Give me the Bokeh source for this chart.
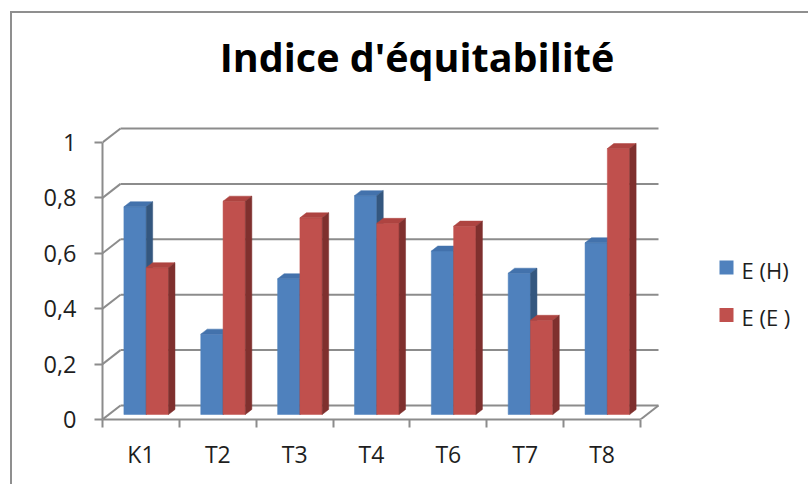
from bokeh.plotting import figure
from bokeh.models import Range1d, FixedTicker, LinearAxis
from bokeh.core.properties import value
from bokeh.embed import file_html
from bokeh.resources import INLINE

# ---------------- data ----------------
categories = ["K1", "T2", "T3", "T4", "T6", "T7", "T8"]
series_names = ["E (H)", "E (E )"]
e_h = [0.75, 0.29, 0.49, 0.79, 0.59, 0.51, 0.62]
e_e = [0.53, 0.77, 0.71, 0.69, 0.68, 0.34, 0.96]
y_ticks = [0, 0.2, 0.4, 0.6, 0.8, 1.0]
y_tick_labels = ["0", "0,2", "0,4", "0,6", "0,8", "1"]
title_text = "Indice d'équitabilité"

# ---------------- styling / geometry ----------------
ORGX, ORGY = 12, 13          # canvas origin on page (after border)
FL, FBOT = 102, 419          # frame left / bottom on page
PX = 538 / 7.0               # px per category
PY = 277.0                   # px per unit value
DX = 18 / PX                 # wall depth in x units
DY = 14 / PY                 # wall depth in y units
W = 22.3 / PX                # bar width
C = 0.5 - 0.015              # pair centre inside category
FB = 0.357                   # depth of bar front face
BD = 0.36                    # bar depth fraction
OX, OY = FB * DX, FB * DY
BX, BY = BD * DX, BD * DY

GRID = "#8c8c8c"
BORDER = "#8f8f8f"
FONT = "Open Sans"
TXT = "#1e1e1e"
front = ["#4F81BD", "#C0504D"]
topc = ["#4372AC", "#AE4441"]
side = ["#34577F", "#7F302E"]


def dx(px):
    return (px - FL) / PX


def dy(py):
    return (FBOT - py) / PY


n = len(categories)
W_FIG = 810 - ORGX
H_FIG = 486 - ORGY
p = figure(width=W_FIG, height=H_FIG, output_backend="svg", toolbar_location=None,
           x_range=Range1d(0, dx(810)), y_range=Range1d(0, dy(ORGY)),
           min_border_left=FL - ORGX, min_border_right=0, min_border_top=0,
           min_border_bottom=486 - FBOT, x_axis_type=None, y_axis_type=None)
p.background_fill_color = "white"
p.border_fill_color = "white"
p.outline_line_color = None
p.xgrid.visible = False
p.ygrid.visible = False
p.styles = {"margin-left": "10px", "margin-top": "11px",
            "border-left": "2px solid " + BORDER, "border-top": "2px solid " + BORDER}

# left axis
yax = LinearAxis(ticker=FixedTicker(ticks=y_ticks), bounds=(0, 1))
yax.major_label_overrides = {t: l for t, l in zip(y_ticks, y_tick_labels)}
yax.axis_line_color = GRID
yax.axis_line_width = 2
yax.major_tick_line_color = GRID
yax.major_tick_line_width = 2
yax.major_tick_out = 8
yax.major_tick_in = 0
yax.minor_tick_line_color = None
yax.major_label_standoff = 18
yax.major_label_text_font = FONT
yax.major_label_text_font_size = "23.5px"
yax.major_label_text_color = TXT
p.add_layout(yax, "left")

# bottom axis
cat_ticks = [i + 0.5 for i in range(n)]
xax = LinearAxis(ticker=FixedTicker(ticks=cat_ticks, minor_ticks=list(range(n + 1))),
                 bounds=(0, n))
xax.major_label_overrides = {t: c for t, c in zip(cat_ticks, categories)}
xax.axis_line_color = GRID
xax.axis_line_width = 2
xax.major_tick_line_color = None
xax.major_tick_out = 0
xax.major_tick_in = 0
xax.minor_tick_line_color = GRID
xax.minor_tick_line_width = 2
xax.minor_tick_out = 8
xax.minor_tick_in = 0
xax.major_label_standoff = 10
xax.major_label_text_font = FONT
xax.major_label_text_font_size = "23px"
xax.major_label_text_color = TXT
p.add_layout(xax, "below")

# walls / gridlines
p.segment(x0=[DX] * len(y_ticks), y0=[t + DY for t in y_ticks],
          x1=[n + DX] * len(y_ticks), y1=[t + DY for t in y_ticks],
          line_color=GRID, line_width=2)
p.segment(x0=[0] * len(y_ticks), y0=y_ticks,
          x1=[DX] * len(y_ticks), y1=[t + DY for t in y_ticks],
          line_color=GRID, line_width=2)
p.segment(x0=[n], y0=[0], x1=[n + DX], y1=[DY], line_color=GRID, line_width=2)

# bars
for s, vals in enumerate([e_h, e_e]):
    lefts = [i + C - W + s * W + OX for i in range(n)]
    rights = [l + W for l in lefts]
    tops = [OY + v for v in vals]
    bots = [OY] * n
    p.quad(left=lefts, right=rights, top=tops, bottom=bots,
           fill_color=front[s], line_color=front[s], line_width=0.5)
    txs = [[l, r, r + BX, l + BX] for l, r in zip(lefts, rights)]
    tys = [[t, t, t + BY, t + BY] for t in tops]
    p.patches(xs=txs, ys=tys, fill_color=topc[s], line_color=topc[s], line_width=0.5)
    sxs = [[r, r + BX, r + BX, r] for r in rights]
    sys_ = [[b, b + BY, t + BY, t] for b, t in zip(bots, tops)]
    p.patches(xs=sxs, ys=sys_, fill_color=side[s], line_color=side[s], line_width=0.5)

# title
p.text(x=[dx(416.5)], y=[dy(56)], text=[title_text],
       text_font=value(FONT), text_font_style="bold", text_font_size="39.5px",
       text_color="black", text_align="center", text_baseline="middle")

# legend
lx = dx(726)
p.scatter(x=[lx, lx], y=[dy(267), dy(314.5)], marker="square", size=14,
          fill_color=front, line_color=None)
p.text(x=[dx(741)] * 2, y=[dy(269), dy(316)], text=series_names,
       text_font=value(FONT), text_font_size="22px", text_color=TXT,
       text_align="left", text_baseline="middle")

open("out.html", "w").write(file_html(p, INLINE))
